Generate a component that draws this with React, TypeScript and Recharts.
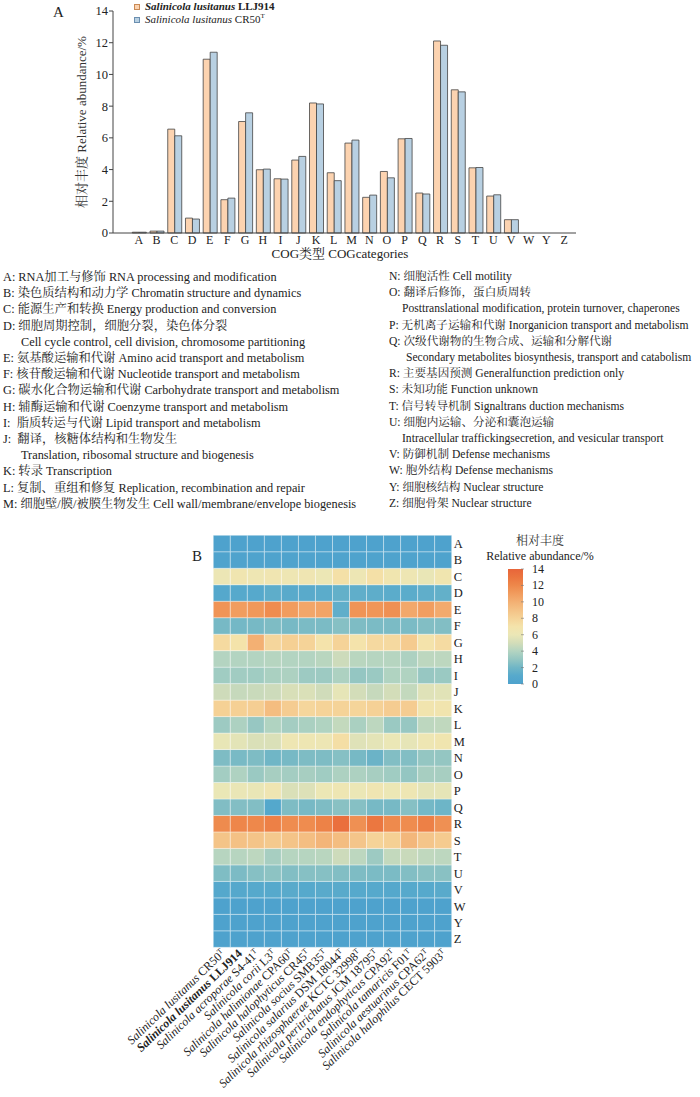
import React from 'react';
import { BarChart, Bar, XAxis, YAxis, Cell } from 'recharts';

// ---- Panel A: COG category abundance (%) ----
const cogCategories = ['A', 'B', 'C', 'D', 'E', 'F', 'G', 'H', 'I', 'J', 'K', 'L', 'M', 'N', 'O', 'P', 'Q', 'R', 'S', 'T', 'U', 'V', 'W', 'Y', 'Z'];
const lljValues = [0.05, 0.12, 6.55, 0.94, 10.96, 2.1, 7.03, 3.99, 3.42, 4.6, 8.2, 3.8, 5.67, 2.25, 3.88, 5.94, 2.52, 12.11, 9.03, 4.11, 2.33, 0.84, 0, 0, 0];
const cr50Values = [0.05, 0.12, 6.13, 0.88, 11.4, 2.2, 7.58, 4.03, 3.4, 4.83, 8.14, 3.3, 5.86, 2.39, 3.48, 5.96, 2.46, 11.84, 8.9, 4.13, 2.41, 0.84, 0, 0, 0];
const abundanceTicks = [0, 2, 4, 6, 8, 10, 12, 14];

// ---- Panel B: heatmap, columns = strains ----
const speciesNames = [
  'Salinicola lusitanus', 'Salinicola lusitanus', 'Salinicola acroporae', 'Salinicola corii',
  'Salinicola halimionae', 'Salinicola halophyticus', 'Salinicola socius', 'Salinicola salarius',
  'Salinicola rhizosphaerae', 'Salinicola peritrichatus', 'Salinicola endophyticus', 'Salinicola tamaricis',
  'Salinicola aestuarinus', 'Salinicola halophilus',
];
const speciesStrains = ['CR50', 'LLJ914', 'S4-41', 'L3', 'CPA60', 'CR45', 'SMB35', 'DSM 18044', 'KCTC 32998', 'JCM 18795', 'CPA92', 'F01', 'CPA62', 'CECT 5903'];
const typeStrain = [true, false, true, true, true, true, true, true, true, true, true, true, true, true];

const hA = [0.05, 0.05, 0.06, 0.05, 0.05, 0.06, 0.05, 0.05, 0.06, 0.05, 0.05, 0.05, 0.06, 0.05];
const hB = [0.12, 0.12, 0.1, 0.12, 0.1, 0.12, 0.1, 0.12, 0.1, 0.12, 0.1, 0.12, 0.1, 0.12];
const hC = [6.13, 6.55, 6.3, 6.5, 6.3, 6.4, 6.1, 7.2, 6.2, 7.2, 6.6, 6.3, 5.9, 6.6];
const hD = [0.88, 0.94, 1.0, 1.3, 1.1, 1.1, 1.2, 1.5, 1.4, 1.3, 1.2, 1.2, 1.4, 1.5];
const hE = [11.4, 10.96, 11.2, 11.8, 11.0, 10.5, 10.6, 1.4, 11.4, 11.3, 11.6, 10.4, 10.9, 10.3];
const hF = [2.2, 2.1, 2.2, 2.4, 2.2, 2.3, 2.3, 2.6, 2.4, 2.3, 2.3, 2.3, 2.5, 2.5];
const hG = [7.58, 7.03, 10.0, 7.8, 8.2, 8.0, 7.0, 8.0, 7.0, 7.6, 7.6, 8.5, 7.0, 7.5];
const hH = [4.03, 3.99, 4.0, 4.1, 4.0, 4.0, 4.2, 4.8, 4.2, 4.1, 4.1, 3.8, 4.3, 4.3];
const hI = [3.4, 3.42, 3.4, 3.7, 3.8, 3.3, 3.3, 3.8, 3.0, 3.2, 3.9, 3.9, 3.1, 3.2];
const hJ = [4.83, 4.6, 4.7, 4.8, 5.2, 5.3, 4.9, 5.8, 5.0, 4.6, 5.0, 4.5, 5.5, 5.6];
const hK = [8.14, 8.2, 8.3, 9.3, 8.4, 7.8, 8.0, 8.0, 7.9, 8.1, 8.4, 8.4, 6.7, 6.7];
const hL = [3.3, 3.8, 3.1, 3.9, 3.5, 3.7, 3.9, 4.5, 3.7, 4.3, 3.2, 3.1, 4.3, 4.4];
const hM = [5.86, 5.67, 5.3, 5.3, 6.3, 6.3, 6.2, 7.3, 5.5, 5.7, 6.0, 5.8, 6.3, 6.6];
const hN = [2.39, 2.25, 2.4, 2.0, 2.2, 2.4, 2.4, 2.6, 2.2, 1.8, 2.5, 2.5, 3.0, 3.0];
const hO = [3.48, 3.88, 3.2, 3.6, 3.5, 3.6, 3.4, 3.8, 3.8, 3.6, 3.4, 3.0, 3.6, 3.6];
const hP = [5.96, 5.94, 5.9, 6.4, 5.3, 5.4, 6.1, 6.3, 6.0, 6.4, 6.1, 6.3, 5.7, 5.8];
const hQ = [2.46, 2.52, 2.5, 0.8, 2.4, 2.2, 2.4, 2.7, 2.6, 2.2, 2.2, 2.6, 2.1, 1.9];
const hR = [11.84, 12.11, 12.0, 12.4, 11.8, 11.8, 12.3, 13.4, 11.6, 12.9, 11.9, 11.8, 12.4, 11.6];
const hS = [8.9, 9.03, 8.9, 8.6, 8.9, 9.2, 9.7, 9.3, 8.8, 8.0, 8.2, 9.6, 8.8, 8.5];
const hT = [4.13, 4.11, 4.3, 3.6, 4.1, 4.1, 4.2, 4.8, 4.3, 3.3, 4.5, 4.7, 4.4, 4.3];
const hU = [2.41, 2.33, 2.6, 2.8, 2.5, 2.6, 2.6, 2.5, 2.4, 2.3, 2.3, 2.5, 2.7, 2.7];
const hV = [0.84, 0.84, 1.0, 1.0, 1.1, 1.0, 1.1, 1.1, 1.0, 1.0, 0.9, 1.0, 1.0, 1.1];
const hW = [0, 0, 0, 0, 0, 0, 0, 0, 0, 0, 0, 0, 0, 0];
const hY = [0, 0, 0, 0, 0, 0, 0, 0, 0, 0, 0, 0, 0, 0];
const hZ = [0, 0, 0, 0, 0, 0, 0, 0, 0, 0, 0, 0, 0, 0];
const heatRows = [hA, hB, hC, hD, hE, hF, hG, hH, hI, hJ, hK, hL, hM, hN, hO, hP, hQ, hR, hS, hT, hU, hV, hW, hY, hZ];
const colorbarTicks = [0, 2, 4, 6, 8, 10, 12, 14];

// category descriptions (two columns); second item = continuation indent
const descLeft: [string, number][] = [
  ['A: RNA加工与修饰 RNA processing and modification', 0],
  ['B: 染色质结构和动力学 Chromatin structure and dynamics', 0],
  ['C: 能源生产和转换 Energy production and conversion', 0],
  ['D: 细胞周期控制，细胞分裂，染色体分裂', 0],
  ['Cell cycle control, cell division, chromosome partitioning', 18],
  ['E: 氨基酸运输和代谢 Amino acid transport and metabolism', 0],
  ['F: 核苷酸运输和代谢 Nucleotide transport and metabolism', 0],
  ['G: 碳水化合物运输和代谢 Carbohydrate transport and metabolism', 0],
  ['H: 辅酶运输和代谢 Coenzyme transport and metabolism', 0],
  ['I:  脂质转运与代谢 Lipid transport and metabolism', 0],
  ['J:  翻译，核糖体结构和生物发生', 0],
  ['Translation, ribosomal structure and biogenesis', 18],
  ['K: 转录 Transcription', 0],
  ['L: 复制、重组和修复 Replication, recombination and repair', 0],
  ['M: 细胞壁/膜/被膜生物发生 Cell wall/membrane/envelope biogenesis', 0],
];
const descRight: [string, number][] = [
  ['N: 细胞活性 Cell motility', 0],
  ['O: 翻译后修饰，蛋白质周转', 0],
  ['Posttranslational modification, protein turnover, chaperones', 13],
  ['P: 无机离子运输和代谢 Inorganicion transport and metabolism', 0],
  ['Q: 次级代谢物的生物合成、运输和分解代谢', 0],
  ['Secondary metabolites biosynthesis, transport and catabolism', 17],
  ['R: 主要基因预测 Generalfunction prediction only', 0],
  ['S: 未知功能 Function unknown', 0],
  ['T: 信号转导机制 Signaltrans duction mechanisms', 0],
  ['U: 细胞内运输、分泌和囊泡运输', 0],
  ['Intracellular traffickingsecretion, and vesicular transport', 13],
  ['V: 防御机制 Defense mechanisms', 0],
  ['W: 胞外结构 Defense mechanisms', 0],
  ['Y: 细胞核结构 Nuclear structure', 0],
  ['Z: 细胞骨架 Nuclear structure', 0],
];

const FONT = "'Liberation Serif', 'Noto Serif CJK SC', 'Noto Sans CJK SC', serif";

const colorStops: [number, string][] = [
  [0, '#4ea2cd'], [1, '#56a9cc'], [2, '#70b6c6'], [3, '#94c6c2'], [4, '#b3d4c1'],
  [5, '#d3ddb9'], [6, '#ebe7b6'], [7, '#f4e3ab'], [8, '#f5d398'], [9, '#f4c286'],
  [10, '#f3b073'], [11, '#f19c5e'], [12, '#ee884b'], [13, '#eb753f'], [14, '#e8653a'],
];

const hex = (c: string) => [1, 3, 5].map(i => parseInt(c.slice(i, i + 2), 16));
const heatColor = (v: number) => {
  const t = Math.max(0, Math.min(14, v));
  for (let i = 0; i < colorStops.length - 1; i++) {
    const [v0, c0] = colorStops[i];
    const [v1, c1] = colorStops[i + 1];
    if (t <= v1) {
      const f = (t - v0) / (v1 - v0);
      const a = hex(c0), b = hex(c1);
      const m = a.map((x, k) => Math.round(x + (b[k] - x) * f));
      return `rgb(${m[0]},${m[1]},${m[2]})`;
    }
  }
  return colorStops[colorStops.length - 1][1];
};

const barData = cogCategories.map((c, i) => ({ cat: c, llj: lljValues[i], cr50: cr50Values[i] }));

const heatData = speciesNames.map((n, ci) => {
  const row: any = { name: `${n} ${speciesStrains[ci]}`, idx: ci };
  cogCategories.forEach(c => { row[c] = 1; });
  return row;
});
// stacked bottom-up, so Z goes first
const stackOrder = [...cogCategories].reverse();
const rowTicks = stackOrder.map((_, i) => i + 0.5);

const SpeciesTick = (props: any) => {
  const { x, y, index } = props;
  const bold = !typeStrain[index];
  return (
    <g transform={`translate(${x + 4},${y + 5}) rotate(-44)`}>
      <text textAnchor="end" fontSize={12} fill="#222" fontFamily={FONT} fontWeight={bold ? 'bold' : 'normal'}>
        <tspan fontStyle="italic">{speciesNames[index]}</tspan>
        <tspan> {speciesStrains[index]}</tspan>
        {typeStrain[index] && <tspan fontSize={7.5} dy={-4}>T</tspan>}
      </text>
    </g>
  );
};

export default function App() {
  const lineH = 16.2;
  return (
    <div style={{ position: 'absolute', left: 0, top: 0, width: 700, height: 1097, fontFamily: FONT, background: '#fff' }}>
      {/* Panel A */}
      <div style={{ position: 'absolute', left: 0, top: 0 }}>
        <BarChart width={700} height={260} data={barData} margin={{ top: 11, right: 124, bottom: 7, left: 73 }} barCategoryGap="13%" barGap={0}>
          <XAxis dataKey="cat" interval={0} padding={{ left: 17, right: 3 }} tickLine={false} tickSize={0} tickMargin={2}
            axisLine={{ stroke: '#444' }} tick={{ fontSize: 12, fill: '#222', fontFamily: FONT }} height={20} />
          <YAxis domain={[0, 14]} ticks={abundanceTicks} width={40} tickSize={4} tickMargin={1}
            axisLine={{ stroke: '#444' }} tickLine={{ stroke: '#444' }} tick={{ fontSize: 12.5, fill: '#222', fontFamily: FONT }} />
          <Bar dataKey="llj" fill="#fcd3b0" stroke="#444" strokeWidth={0.8} isAnimationActive={false} />
          <Bar dataKey="cr50" fill="#b8d0e2" stroke="#444" strokeWidth={0.8} isAnimationActive={false} />
        </BarChart>
      </div>

      {/* legend of panel A */}
      <div style={{ position: 'absolute', left: 134, top: 0, fontSize: 11, lineHeight: '13px', color: '#222' }}>
        <div style={{ display: 'flex', alignItems: 'center', whiteSpace: 'nowrap' }}>
          <span style={{ width: 4, height: 4, border: '1px solid #c98a55', background: '#fcd3b0', marginRight: 5 }} />
          <span style={{ fontWeight: 'bold' }}><i>Salinicola lusitanus</i> LLJ914</span>
        </div>
        <div style={{ display: 'flex', alignItems: 'center', whiteSpace: 'nowrap' }}>
          <span style={{ width: 4, height: 4, border: '1px solid #6b8fb0', background: '#b8d0e2', marginRight: 5 }} />
          <span><i>Salinicola lusitanus</i> CR50<sup style={{ fontSize: 7, lineHeight: 0 }}>T</sup></span>
        </div>
      </div>

      {/* category descriptions */}
      {descLeft.map(([t, ind], i) => (
        <div key={`l${i}`} style={{ position: 'absolute', left: 3 + ind, top: 269 + i * lineH, lineHeight: `${lineH}px`, fontSize: 12.3, color: '#222', whiteSpace: 'pre' }}>{t}</div>
      ))}
      {descRight.map(([t, ind], i) => (
        <div key={`r${i}`} style={{ position: 'absolute', left: 389 + ind, top: 269 + i * lineH, lineHeight: `${lineH}px`, fontSize: 11.6, color: '#222', whiteSpace: 'pre' }}>{t}</div>
      ))}

      {/* Panel B */}
      <div style={{ position: 'absolute', left: 0, top: 520 }}>
        <BarChart width={700} height={577} data={heatData} margin={{ top: 15.3, right: 218.3, bottom: 9.7, left: 213.3 }} barCategoryGap={0} barGap={0}>
          <XAxis dataKey="name" interval={0} tick={<SpeciesTick />} height={140} axisLine={false} tickLine={false} tickSize={0} tickMargin={2} />
          <YAxis orientation="right" type="number" domain={[0, 25]} ticks={rowTicks} interval={0} width={30}
            axisLine={false} tickLine={false} tickSize={0} tickMargin={2}
            tickFormatter={(v: number) => stackOrder[Math.floor(v)]}
            tick={{ fontSize: 12.5, fill: '#222', fontFamily: FONT }} />
          {stackOrder.map(cat => {
            const ri = cogCategories.indexOf(cat);
            return (
              <Bar key={cat} dataKey={cat} stackId="cog" stroke="#ffffff" strokeWidth={0.5} strokeOpacity={0.7} isAnimationActive={false}>
                {heatData.map((d, ci) => <Cell key={ci} fill={heatColor(heatRows[ri][ci])} />)}
              </Bar>
            );
          })}
        </BarChart>
      </div>

      {/* annotations, axis titles, colorbar */}
      <svg width={700} height={1097} style={{ position: 'absolute', left: 0, top: 0, pointerEvents: 'none' }} fontFamily={FONT}>
        <defs>
          <linearGradient id="cbar" x1="0" y1="1" x2="0" y2="0">
            {colorStops.map(([v, c]) => <stop key={v} offset={`${(v / 14) * 100}%`} stopColor={c} />)}
          </linearGradient>
        </defs>
        <text x={53} y={17} fontSize={15} fill="#222">A</text>
        <text x={86} y={122} fontSize={13} fill="#333" textAnchor="middle" transform="rotate(-90 86 122)">相对丰度 Relative abundance/%</text>
        <text x={340} y={258} fontSize={13} fill="#222" textAnchor="middle">COG类型 COGcategories</text>

        <text x={192} y={561} fontSize={15} fill="#222">B</text>
        <text x={540} y={545} fontSize={12} fill="#333" textAnchor="middle">相对丰度</text>
        <text x={540} y={560} fontSize={12} fill="#222" textAnchor="middle">Relative abundance/%</text>
        <rect x={508} y={569} width={15} height={115} fill="url(#cbar)" />
        {colorbarTicks.map(t => {
          const yy = 684 - (t / 14) * 115;
          return (
            <g key={t}>
              <line x1={521} x2={524} y1={yy} y2={yy} stroke="#777" strokeWidth={0.6} />
              <text x={532} y={yy + 4} fontSize={12} fill="#222">{t}</text>
            </g>
          );
        })}
      </svg>
    </div>
  );
}
